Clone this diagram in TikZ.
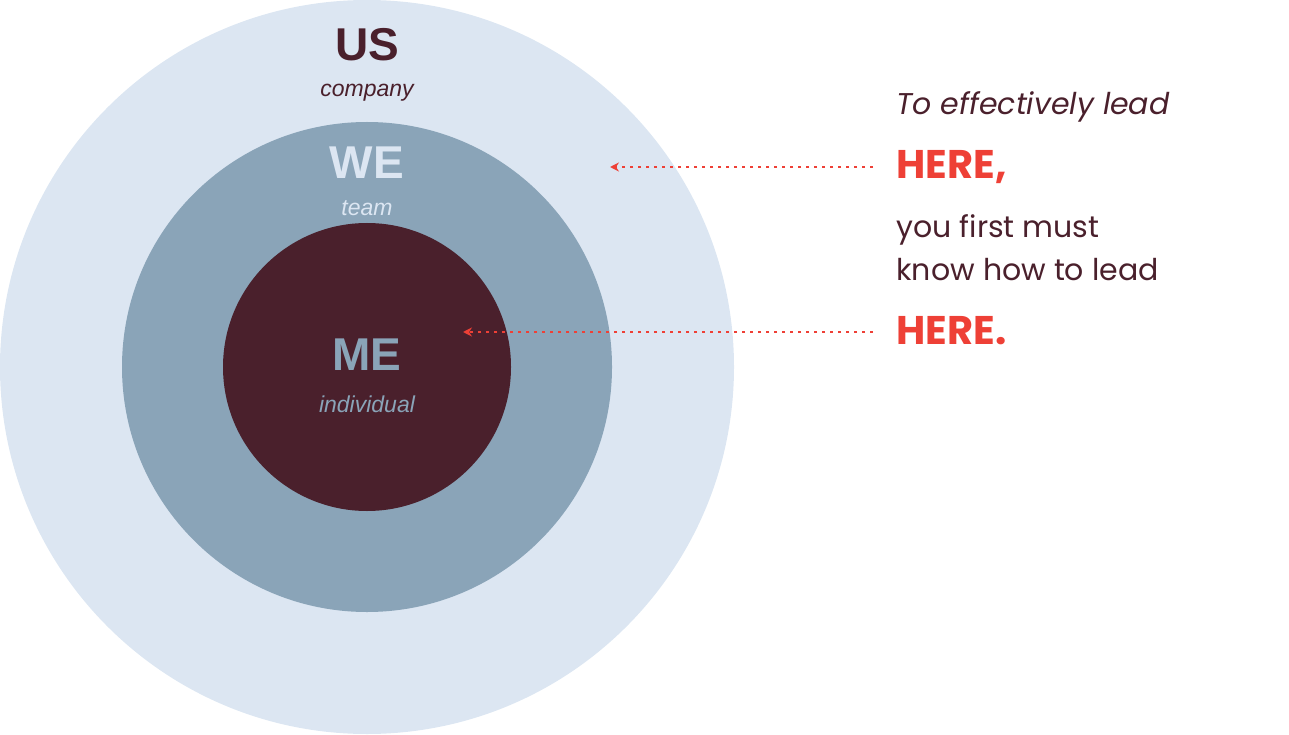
\documentclass[tikz,border=0pt]{standalone}
\usepackage{fontspec}
\setmainfont{Liberation Sans}
\newfontfamily\pop{Poppins}
\usetikzlibrary{arrows.meta}
\definecolor{outer}{HTML}{DCE6F2}
\definecolor{mid}{HTML}{8AA4B8}
\definecolor{inner}{HTML}{4A202C}
\definecolor{red}{HTML}{EE4036}
\tikzset{lbl/.style={font=\bfseries\fontsize{46}{46}\selectfont},
sub/.style={font=\itshape\fontsize{23}{23}\selectfont},
rt/.style={anchor=west,font=\pop\fontsize{30}{30}\selectfont,text=inner},
hr/.style={anchor=west,font=\pop\bfseries\fontsize{40}{40}\selectfont,text=red},
arr/.style={red,line width=2.2pt,dash pattern=on 3pt off 5pt,-{Stealth[length=9pt,width=9pt]}}}
\begin{document}
\begin{tikzpicture}[x=1pt,y=-1pt]
\useasboundingbox (0,0) rectangle (1289,735);
\fill[outer] (367,367) circle (367);
\fill[mid] (367,367) circle (245);
\fill[inner] (367,367) circle (144);
\node[lbl,text=inner] (us) at (367,45) {US};
\node[sub,text=inner] (co) at (367,93) {company};
\node[lbl,text=outer] (we) at (367,163) {WE};
\node[sub,text=outer] (tm) at (367,208) {team};
\node[lbl,text=mid] (me) at (367,355) {ME};
\node[sub,text=mid] (in) at (367,404) {individual};
\node[rt,font=\pop\itshape\fontsize{30}{30}\selectfont] (t1) at (893,107) {To effectively lead};
\node[hr] (h1) at (893,167) {HERE,};
\node[rt] (t2) at (893,230) {you first must};
\node[rt] (t3) at (893,270) {know how to lead};
\node[hr] (h2) at (893,331) {HERE.};
\coordinate (a1) at (610,167);
\coordinate (a2) at (463,332);
\draw[arr] (h1.west|-0,167) ++(-20,0) -- (a1);
\draw[arr] (h2.west|-0,332) ++(-20,0) -- (a2);
\end{tikzpicture}
\end{document}
